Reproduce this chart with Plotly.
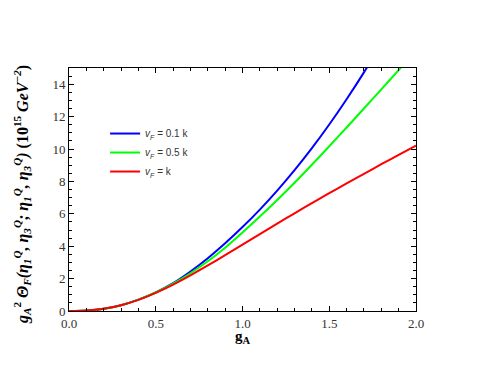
import plotly.graph_objects as go

# g_A values sampled along the curves
g_a = [0.0, 0.1, 0.2, 0.3, 0.4, 0.5, 0.6, 0.7, 0.8, 0.9, 1.0,
       1.1, 1.2, 1.3, 1.4, 1.5, 1.6, 1.7, 1.8, 1.9, 2.0]

# (10^15 GeV^-2)
theta_01k = [0.0, 0.03, 0.14, 0.36, 0.70, 1.15, 1.72, 2.44, 3.26, 4.18, 5.18,
             6.26, 7.43, 8.69, 10.05, 11.51, 13.07, 14.73, 16.5, 18.3, 20.2]
theta_05k = [0.0, 0.03, 0.14, 0.36, 0.70, 1.14, 1.69, 2.33, 3.07, 3.91, 4.85,
             5.83, 6.85, 7.92, 9.03, 10.17, 11.33, 12.50, 13.68, 14.87, 16.06]
theta_k = [0.0, 0.03, 0.14, 0.36, 0.69, 1.12, 1.63, 2.20, 2.81, 3.45, 4.10,
           4.75, 5.40, 6.03, 6.66, 7.27, 7.88, 8.47, 9.06, 9.64, 10.21]

labels = ["<i>v<sub>F</sub></i> = 0.1 k", "<i>v<sub>F</sub></i> = 0.5 k", "<i>v<sub>F</sub></i> = k"]
colors = ["rgb(0,0,255)", "rgb(0,255,0)", "rgb(255,0,0)"]

fig = go.Figure()
for ys, name, col in zip([theta_01k, theta_05k, theta_k], labels, colors):
    fig.add_trace(go.Scatter(
        x=g_a, y=ys, mode='lines', name=name,
        line=dict(color=col, width=2, shape='spline', smoothing=0.8)
    ))

axis_common = dict(
    showline=True, linecolor='black', linewidth=1, mirror='ticks',
    ticks='inside', ticklen=5, tickcolor='black', showgrid=False, zeroline=False,
    tickfont=dict(family='Liberation Serif', size=13, color='#333'),
)

fig.update_xaxes(
    range=[0, 2], dtick=0.5, tickformat='.1f',
    minor=dict(dtick=0.1, ticks='inside', ticklen=3, tickcolor='black'),
    **axis_common
)
fig.update_yaxes(
    range=[0, 15], dtick=2,
    minor=dict(dtick=0.5, ticks='inside', ticklen=3, tickcolor='black'),
    **axis_common
)

# axis titles placed as annotations so they sit where the reference has them
fig.add_annotation(
    text='<b>g<sub>A</sub></b>', xref='paper', yref='paper', x=0.5, y=-0.108,
    xanchor='center', yanchor='middle', showarrow=False,
    font=dict(family='Liberation Serif', size=15, color='black')
)
fig.add_annotation(
    text='<b><i>g<sub>A</sub></i><sup>2</sup> <i>Θ<sub>F</sub>(η<sub>1</sub><sup>Q</sup>, η<sub>3</sub><sup>Q</sup>; '
         'η<sub>1</sub><sup>Q</sup>, η<sub>3</sub><sup>Q</sup>)</i> (10<sup>15</sup> <i>GeV<sup>−2</sup></i>)</b>',
    xref='paper', yref='paper', x=-0.135, y=0.478, textangle=-90,
    xanchor='center', yanchor='middle', showarrow=False,
    font=dict(family='Liberation Serif', size=16, color='black')
)

fig.update_layout(
    width=469, height=365,
    margin=dict(l=61, r=61, t=60, b=62),
    plot_bgcolor='white', paper_bgcolor='white',
    showlegend=True,
    legend=dict(x=0.104, y=0.79, xanchor='left', yanchor='top',
                font=dict(family='Liberation Sans', size=10, color='#333'),
                bgcolor='rgba(0,0,0,0)'),
)

fig.write_html("out.html")
